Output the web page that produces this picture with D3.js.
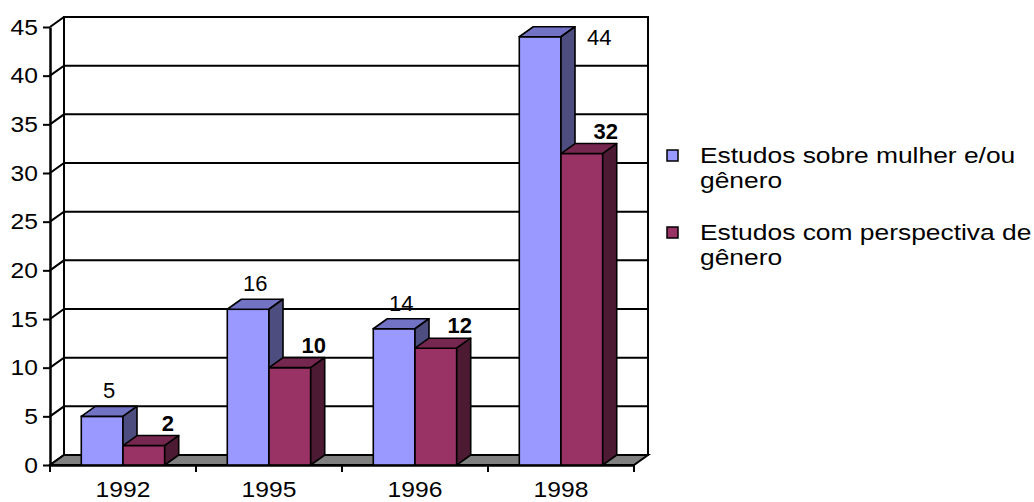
<!DOCTYPE html>
<html>
<head>
<meta charset="utf-8">
<script src="https://cdn.jsdelivr.net/npm/d3@7"></script>
<style>
  html, body { margin: 0; padding: 0; background: #fff; }
  svg { display: block; font-family: "Liberation Sans", Arial, sans-serif; }
</style>
</head>
<body>
<svg id="chart" width="1034" height="502"></svg>
<script>
// ---- data ----
const categories = ["1992", "1995", "1996", "1998"];
const sobreMulher = [5, 16, 14, 44];
const perspectivaGenero = [2, 10, 12, 32];
const seriesNames = ["Estudos sobre mulher e/ou gênero", "Estudos com perspectiva de gênero"];
const legendLines = [["Estudos sobre mulher e/ou", "gênero"], ["Estudos com perspectiva de", "gênero"]];
const yTicks = [0, 5, 10, 15, 20, 25, 30, 35, 40, 45];

// ---- layout ----
const svg = d3.select("#chart");
const plotLeft = 50, plotRight = 634, plotBottom = 465, plotTop = 27;
const DX = 14, DY = -10;
const SX_AXIS = 1.12, SX_LEG = 1.2; // horizontal stretch of the original text rendering

const x = d3.scaleBand().domain(categories).range([plotLeft, plotRight]).paddingInner(0).paddingOuter(0);
const xs = d3.scaleBand().domain([0, 1]).range([0, x.bandwidth()]).paddingInner(0).paddingOuter(0.75);
const y = d3.scaleLinear().domain([0, 45]).range([plotBottom, plotTop]);

const series = [
  { name: seriesNames[0], values: sobreMulher, front: "#9999FF", topC: "#7373C6", side: "#4D4D80", bold: false },
  { name: seriesNames[1], values: perspectivaGenero, front: "#993366", topC: "#75274F", side: "#4D1A33", bold: true }
];

const g = svg.append("g");

// back wall
g.append("rect")
  .attr("x", plotLeft + DX).attr("y", y(45) + DY)
  .attr("width", plotRight - plotLeft).attr("height", y(0) - y(45))
  .attr("fill", "#fff").attr("stroke", "#000").attr("stroke-width", 2);

// gridlines (side wall diagonal + back wall horizontal)
g.selectAll("path.grid").data(yTicks).join("path")
  .attr("class", "grid")
  .attr("d", t => `M${plotLeft},${y(t)}L${plotLeft + DX},${y(t) + DY}L${plotRight + DX},${y(t) + DY}`)
  .attr("fill", "none").attr("stroke", "#000").attr("stroke-width", 2);

// floor
g.append("path")
  .attr("d", `M${plotLeft},${y(0)}L${plotRight},${y(0)}L${plotRight + DX},${y(0) + DY}L${plotLeft + DX},${y(0) + DY}Z`)
  .attr("fill", "#808080").attr("stroke", "#000").attr("stroke-width", 2);

// y axis
const yAxis = d3.axisLeft(y).tickValues(yTicks).tickSize(7).tickSizeOuter(0).tickPadding(5);
const ya = g.append("g").attr("transform", `translate(${plotLeft},0)`).call(yAxis);
ya.select(".domain").attr("stroke-width", 2.5);
ya.selectAll(".tick line").attr("stroke-width", 2);
ya.selectAll("text")
  .attr("font-size", 22).attr("fill", "#000").attr("font-family", "Liberation Sans, Arial, sans-serif")
  .attr("x", -12 / SX_AXIS).attr("transform", `scale(${SX_AXIS},1)`);

// x axis: labels at category centers, ticks at category boundaries
const xAxis = d3.axisBottom(x).tickSize(0).tickPadding(16);
const xa = g.append("g").attr("transform", `translate(0,${plotBottom})`).call(xAxis);
xa.select(".domain").attr("stroke-width", 2.5);
xa.selectAll("text")
  .attr("font-size", 22).attr("fill", "#000").attr("font-family", "Liberation Sans, Arial, sans-serif")
  .attr("transform", `scale(${SX_AXIS},1)`);
const bounds = d3.range(categories.length + 1).map(i => plotLeft + i * x.step());
g.selectAll("line.xt").data(bounds).join("line")
  .attr("x1", d => d).attr("x2", d => d)
  .attr("y1", plotBottom).attr("y2", plotBottom + 7)
  .attr("stroke", "#000").attr("stroke-width", 2);

// bars
const bars = g.append("g");
categories.forEach((c, ci) => {
  series.forEach((s, si) => {
    const v = s.values[ci];
    const x0 = x(c) + xs(si), x1 = x0 + xs.bandwidth();
    const yt = y(v), yb = y(0);
    const b = bars.append("g");
    b.append("rect").attr("x", x0).attr("y", yt).attr("width", x1 - x0).attr("height", yb - yt)
      .attr("fill", s.front).attr("stroke", "#000").attr("stroke-width", 1.6);
    b.append("path").attr("d", `M${x0},${yt}L${x0 + DX},${yt + DY}L${x1 + DX},${yt + DY}L${x1},${yt}Z`)
      .attr("fill", s.topC).attr("stroke", "#000").attr("stroke-width", 1.6).attr("stroke-linejoin", "round");
    b.append("path").attr("d", `M${x1},${yt}L${x1 + DX},${yt + DY}L${x1 + DX},${yb + DY}L${x1},${yb}Z`)
      .attr("fill", s.side).attr("stroke", "#000").attr("stroke-width", 1.6).attr("stroke-linejoin", "round");
  });
});

// data labels
const labels = g.append("g").attr("font-size", 22).attr("fill", "#000");
categories.forEach((c, ci) => {
  series.forEach((s, si) => {
    const v = s.values[ci];
    const x0 = x(c) + xs(si), x1 = x0 + xs.bandwidth();
    const cx = (x0 + x1) / 2;
    let lx = cx + (si === 0 ? 7 : 24);
    let ly = y(v) + DY - (si === 0 ? 8 : 5);
    let anchor = "middle";
    if (ly - 16 < y(45) + DY) {
      lx = x1 + DX + 12;
      ly = y(v) + 8;
      anchor = "start";
    }
    labels.append("text").attr("x", lx).attr("y", ly).attr("text-anchor", anchor)
      .attr("font-weight", s.bold ? "bold" : "normal").text(v);
  });
});

// legend
const lg = svg.append("g").attr("transform", "translate(667,0)");
const legendY = [150, 227];
series.forEach((s, si) => {
  lg.append("rect").attr("x", 0).attr("y", legendY[si]).attr("width", 11).attr("height", 11)
    .attr("fill", s.front).attr("stroke", "#000").attr("stroke-width", 1.5);
  const t = lg.append("text")
    .attr("transform", `translate(33,${legendY[si] + 13}) scale(${SX_LEG},1)`)
    .attr("font-size", 22).attr("fill", "#000");
  legendLines[si].forEach((ln, li) => {
    t.append("tspan").attr("x", 0).attr("dy", li === 0 ? 0 : 25).text(ln);
  });
});
</script>
</body>
</html>
